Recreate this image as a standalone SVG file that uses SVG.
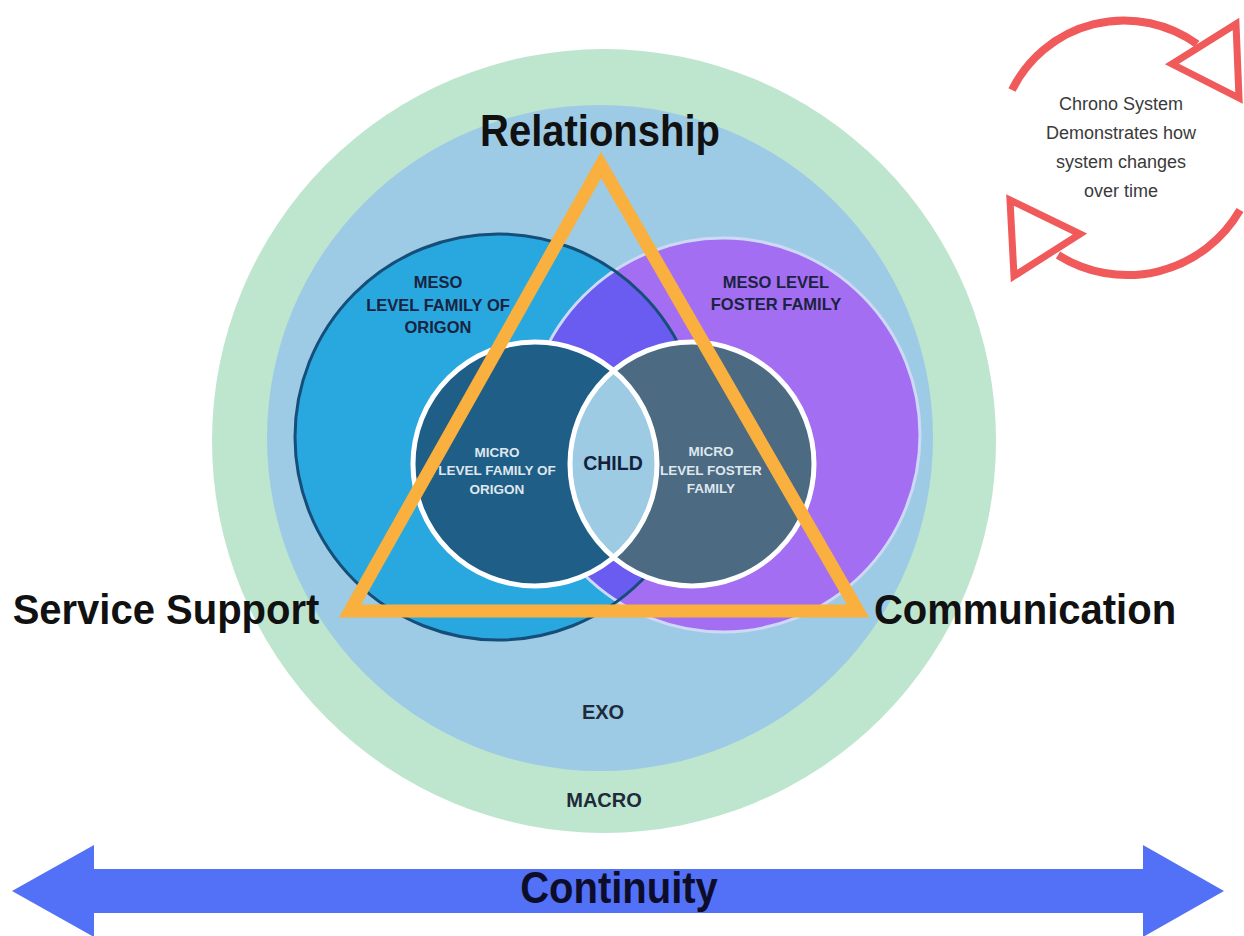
<svg xmlns="http://www.w3.org/2000/svg" width="1244" height="936" viewBox="0 0 1244 936">
<style>
.t{font-family:"Liberation Sans",Arial,sans-serif;font-weight:bold;text-anchor:middle}
.big{font-size:40px;fill:#111}
.meso{font-size:16.5px;fill:#1a2340}
.micro{font-size:13.5px;fill:#dfe7ee}
.lvl{font-size:20px;fill:#1d2b3a}
.chrono{font-family:"Liberation Sans",Arial,sans-serif;font-size:18px;fill:#3a3a3a;text-anchor:middle}
.ring{fill:none;stroke:#ffffff;stroke-width:5}
.red{fill:none;stroke:#f05a5a;stroke-width:8}
.redhead{fill:#ffffff;stroke:#f05a5a;stroke-width:7;stroke-linejoin:miter}
</style>
<defs>
<clipPath id="clipMesoL"><circle cx="498" cy="437" r="203"/></clipPath>
<clipPath id="clipMicroL"><circle cx="535" cy="464" r="122"/></clipPath>
</defs>
<rect width="1244" height="936" fill="#ffffff"/>
<g id="macro">
<circle cx="604" cy="441" r="392" fill="#bee5cd"/>
<text class="t lvl" x="604" y="807">MACRO</text>
</g>
<g id="exo">
<circle cx="600" cy="438" r="333" fill="#9dcbe5"/>
<text class="t lvl" x="603" y="719">EXO</text>
</g>
<g id="meso-origin">
<circle cx="498" cy="437" r="203" fill="#29a8df"/>
</g>
<g id="meso-foster">
<circle cx="723" cy="435" r="197" fill="#a46ef2"/>
<circle cx="723" cy="435" r="197" fill="#6a5cf0" clip-path="url(#clipMesoL)"/>
<circle cx="723" cy="435" r="197" fill="none" stroke="#cdd9f6" stroke-width="3"/>
<circle cx="498" cy="437" r="203" fill="none" stroke="#154e78" stroke-width="3"/>
<text class="t meso" x="438" y="288">MESO</text>
<text class="t meso" x="438" y="311">LEVEL FAMILY OF</text>
<text class="t meso" x="438" y="333">ORIGON</text>
<text class="t meso" x="776" y="288">MESO LEVEL</text>
<text class="t meso" x="776" y="310">FOSTER FAMILY</text>
</g>
<g id="micro-origin">
<circle cx="535" cy="464" r="122" fill="#1f5e86"/>
</g>
<g id="micro-foster">
<circle cx="692" cy="464" r="122" fill="#4c6a82"/>
</g>
<g id="child">
<circle cx="692" cy="464" r="122" fill="#9dcbe4" clip-path="url(#clipMicroL)"/>
<circle class="ring" cx="535" cy="464" r="122"/>
<circle class="ring" cx="692" cy="464" r="122"/>
<text class="t" x="613" y="470" font-size="19.5" fill="#14213d">CHILD</text>
</g>
<g id="micro-labels">
<text class="t micro" x="497" y="457">MICRO</text>
<text class="t micro" x="497" y="475">LEVEL FAMILY OF</text>
<text class="t micro" x="497" y="494">ORIGON</text>
<text class="t micro" x="711" y="456">MICRO</text>
<text class="t micro" x="711" y="475">LEVEL FOSTER</text>
<text class="t micro" x="711" y="493">FAMILY</text>
</g>
<g id="triangle">
<polygon points="601,165 350,611 858,611" fill="none" stroke="#f9b03e" stroke-width="13" stroke-linejoin="miter"/>
</g>
<g id="relationship"><text class="t big" x="600" y="146" transform="translate(0,146) scale(1,1.1) translate(0,-146)">Relationship</text></g>
<g id="service-support"><text class="t big" x="166" y="624" transform="translate(0,624) scale(1,1.08) translate(0,-624)">Service Support</text></g>
<g id="communication"><text class="t big" x="1025" y="624" transform="translate(0,624) scale(1,1.08) translate(0,-624)">Communication</text></g>
<g id="connectors">
<path class="red" d="M 1012 90 A 125 125 0 0 1 1197 44"/>
<polygon class="redhead" points="1172,64 1236,24 1239,98"/>
<path class="red" d="M 1240 210 A 130 130 0 0 1 1058 255"/>
<polygon class="redhead" points="1080,234 1014,276 1010,200"/>
</g>
<g id="chrono-system">
<text class="chrono" x="1121" y="110">Chrono System</text>
<text class="chrono" x="1121" y="139">Demonstrates how</text>
<text class="chrono" x="1121" y="168">system changes</text>
<text class="chrono" x="1121" y="197">over time</text>
</g>
<g id="continuity">
<polygon points="12,891 94,845 94,869 1143,869 1143,845 1224,891 1143,937 1143,913 94,913 94,937" fill="#5271f7"/>
<text class="t big" x="619" y="903" transform="translate(0,903) scale(1,1.1) translate(0,-903)" style="fill:#0d0d2a">Continuity</text>
</g>
</svg>
